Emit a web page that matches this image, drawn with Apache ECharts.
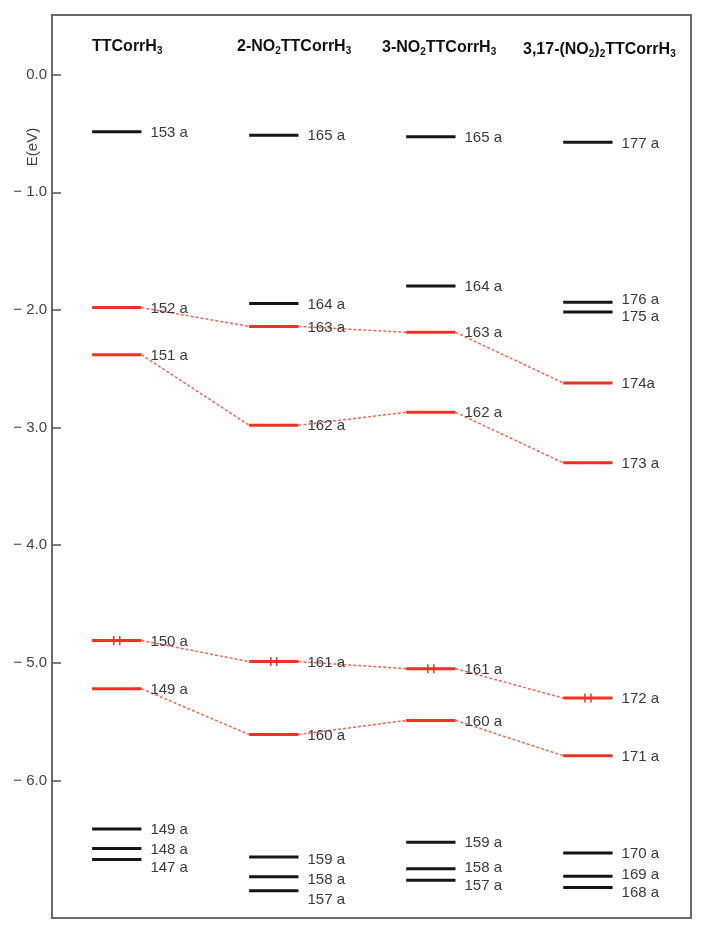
<!DOCTYPE html>
<html><head><meta charset="utf-8">
<script src="https://cdn.jsdelivr.net/npm/echarts@6/dist/echarts.min.js"></script>
<style>html,body{margin:0;padding:0;background:#fff}#c{width:707px;height:930px}</style>
</head><body><div id="c"></div>
<script>
// ---- data ----
const molecules = ['TTCorrH3', '2-NO2TTCorrH3', '3-NO2TTCorrH3', '3,17-(NO2)2TTCorrH3'];
const columns = [1, 2, 3, 4];
const yTicks = [0, -1, -2, -3, -4, -5, -6];

// frontier orbitals (red), one value per molecule
const lumoPlus1 = [-1.98, -2.14, -2.19, -2.62];
const lumoPlus1Labels = ['152 a', '163 a', '163 a', '174a'];
const lumo = [-2.38, -2.98, -2.87, -3.30];
const lumoLabels = ['151 a', '162 a', '162 a', '173 a'];
const homo = [-4.81, -4.99, -5.05, -5.30];
const homoLabels = ['150 a', '161 a', '161 a', '172 a'];
const homoMinus1 = [-5.22, -5.61, -5.49, -5.79];
const homoMinus1Labels = ['149 a', '160 a', '160 a', '171 a'];

// other orbitals (black), per molecule
const otherTTCorr = [-0.485, -6.414, -6.578, -6.673];
const otherTTCorrLabels = ['153 a', '149 a', '148 a', '147 a'];
const other2NO2 = [-0.515, -1.944, -6.652, -6.82, -6.939];
const other2NO2Labels = ['165 a', '164 a', '159 a', '158 a', '157 a'];
const other3NO2 = [-0.527, -1.797, -6.525, -6.752, -6.85];
const other3NO2Labels = ['165 a', '164 a', '159 a', '158 a', '157 a'];
const otherDiNO2 = [-0.575, -1.935, -2.018, -6.618, -6.814, -6.91];
const otherDiNO2Labels = ['177 a', '176 a', '175 a', '170 a', '169 a', '168 a'];

// ---- layout / style ----
const HALF = 0.157;           // half width of a level bar, in column units
const RED = '#ee3322';
const DASH = '#f2664f';
const BLACK = '#151515';
const FONT = '"Liberation Sans", Arial, Helvetica, sans-serif';
const labelNudge = { // pixel shifts of labels that would collide
  '0|147 a': 7, '1|157 a': 8, '1|158 a': 2, '1|159 a': 2, '2|157 a': 4, '2|158 a': -2,
  '3|168 a': 4, '3|169 a': -2, '3|175 a': 4, '3|176 a': -3
};

const otherSets = [
  [otherTTCorr, otherTTCorrLabels], [other2NO2, other2NO2Labels],
  [other3NO2, other3NO2Labels], [otherDiNO2, otherDiNO2Labels]
];
const blackItems = [], blackLabels = [], blackCols = [];
otherSets.forEach((s, ci) => s[0].forEach((e, i) => {
  blackItems.push([columns[ci], e]); blackLabels.push(s[1][i]); blackCols.push(ci);
}));
const frontier = [
  [lumoPlus1, lumoPlus1Labels, false], [lumo, lumoLabels, false],
  [homo, homoLabels, true], [homoMinus1, homoMinus1Labels, false]
];
const redItems = [], redLabels = [], redCols = [], redOcc = [];
const connItems = [];
frontier.forEach(f => {
  f[0].forEach((e, ci) => {
    redItems.push([columns[ci], e]); redLabels.push(f[1][ci]); redCols.push(ci); redOcc.push(f[2]);
    if (ci < f[0].length - 1) connItems.push([columns[ci], e, columns[ci + 1], f[0][ci + 1]]);
  });
});

function levelRender(labels, cols, color, occ) {
  return function (params, api) {
    const x = api.value(0), e = api.value(1);
    const p1 = api.coord([x - HALF, e]), p2 = api.coord([x + HALF, e]);
    const lab = labels[params.dataIndex];
    const dy = 1 + (labelNudge[cols[params.dataIndex] + '|' + lab] || 0);
    const ch = [
      { type: 'line', shape: { x1: p1[0], y1: p1[1], x2: p2[0], y2: p2[1] },
        style: { stroke: color, lineWidth: 3 } },
      { type: 'text', x: p2[0] + 9, y: p1[1] + dy,
        style: { text: lab, fill: '#3a3a3a', font: '15px ' + FONT, textAlign: 'left', textVerticalAlign: 'middle' } }
    ];
    if (occ && occ[params.dataIndex]) {
      const cx = (p1[0] + p2[0]) / 2;
      [-3, 3].forEach(o => ch.push({ type: 'line',
        shape: { x1: cx + o, y1: p1[1] - 4.5, x2: cx + o, y2: p1[1] + 4.5 },
        style: { stroke: color, lineWidth: 1.5 } }));
    }
    return { type: 'group', children: ch };
  };
}

function toRich(name) {
  // digits following a letter or ')' are subscripts
  const parts = [];
  let re = /([A-Za-z\)])(\d+)/g, last = 0, m;
  while ((m = re.exec(name))) {
    const end = m.index + 1;
    parts.push('{b|' + name.slice(last, end) + '}');
    parts.push('{s|' + m[2] + '}');
    last = re.lastIndex;
  }
  if (last < name.length) parts.push('{b|' + name.slice(last) + '}');
  return parts.join('');
}
const titleLeft = [92, 237, 382, 523];
const titleTop = [38, 38, 39, 41];

const chart = echarts.init(document.getElementById('c'), null, { renderer: 'canvas' });
chart.setOption({
  backgroundColor: '#fff',
  animation: false,
  title: molecules.map((m, i) => ({
    text: toRich(m), left: titleLeft[i], top: titleTop[i], padding: 0,
    textStyle: {
      rich: {
        b: { fontSize: 16, fontWeight: 'bold', color: '#111', fontFamily: FONT, lineHeight: 18 },
        s: { fontSize: 10, fontWeight: 'bold', color: '#111', fontFamily: FONT, lineHeight: 12, verticalAlign: 'bottom' }
      }
    }
  })),
  graphic: [{
    type: 'text', x: 33, y: 147, rotation: Math.PI / 2,
    style: { text: 'E(eV)', fill: '#444', font: '15px ' + FONT, textAlign: 'center', textVerticalAlign: 'middle' }
  }],
  grid: { left: 52, right: 16, top: 15, bottom: 12, show: true, borderColor: '#6a6a6a', borderWidth: 2 },
  xAxis: { type: 'value', min: 0.5876, max: 4.6565, show: false },
  yAxis: {
    type: 'value', min: -7.17, max: 0.508,
    axisLine: { show: false },
    splitLine: { show: false },
    axisTick: { show: true, inside: true, length: 9, customValues: yTicks, lineStyle: { color: '#555', width: 1.5 } },
    axisLabel: {
      customValues: yTicks, margin: 5, fontSize: 15, color: '#444', fontFamily: FONT,
      formatter: v => (v < 0 ? '\u2212 ' + Math.abs(v).toFixed(1) : Math.abs(v).toFixed(1))
    }
  },
  series: [
    {
      type: 'custom', name: 'connectors', z: 1, data: connItems,
      encode: { x: [0, 2], y: [1, 3] },
      renderItem: function (params, api) {
        const a = api.coord([api.value(0) + HALF, api.value(1)]);
        const b = api.coord([api.value(2) - HALF, api.value(3)]);
        return { type: 'line', shape: { x1: a[0], y1: a[1], x2: b[0], y2: b[1] },
          style: { stroke: DASH, lineWidth: 1.5, lineDash: [3, 2] } };
      }
    },
    { type: 'custom', name: 'other', z: 2, data: blackItems, encode: { x: 0, y: 1 },
      renderItem: levelRender(blackLabels, blackCols, BLACK, null) },
    { type: 'custom', name: 'frontier', z: 3, data: redItems, encode: { x: 0, y: 1 },
      renderItem: levelRender(redLabels, redCols, RED, redOcc) }
  ]
});
</script></body></html>
